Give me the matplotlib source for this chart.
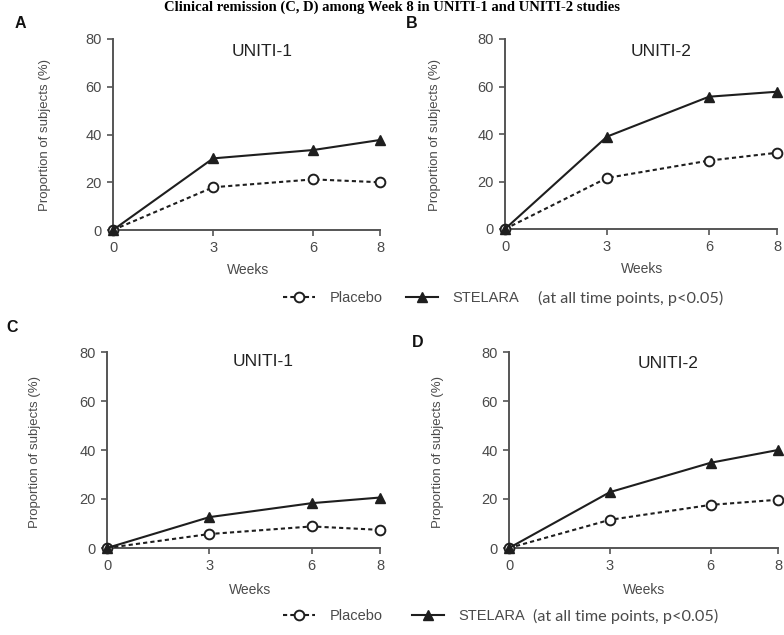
import matplotlib
matplotlib.use("Agg")
import matplotlib.pyplot as plt
from matplotlib.lines import Line2D

plt.rcParams['font.family'] = ['Liberation Sans', 'DejaVu Sans']

W, H = 784, 635

weeks = [0, 3, 6, 8]
week_ticks = [0, 3, 6, 8]
y_ticks = [0, 20, 40, 60, 80]

# response (A, B) and remission (C, D), % of subjects
a_stelara = [0, 30.0, 33.5, 37.7]
a_placebo = [0, 17.9, 21.2, 20.0]
b_stelara = [0, 38.9, 55.7, 57.8]
b_placebo = [0, 21.5, 28.8, 32.1]
c_stelara = [0, 12.6, 18.3, 20.6]
c_placebo = [0, 5.7, 8.8, 7.4]
d_stelara = [0, 22.8, 34.8, 40.0]
d_placebo = [0, 11.5, 17.6, 19.7]

studies = ["UNITI-1", "UNITI-2", "UNITI-1", "UNITI-2"]
letters = ["A", "B", "C", "D"]

ink = "#1e1e1e"
grey = "#4a4a4a"


def fx(x):
    return x / W


def fy(y):
    return 1 - y / H


def box(l, r, t, b):
    return [fx(l), fy(b), (r - l) / W, (b - t) / H]


fig = plt.figure(figsize=(W / 100, H / 100), dpi=100)

# heading line at the very top (only a sliver shows in the source)
fig.text(fx(392), fy(1), "Clinical remission (C, D) among Week 8 in UNITI-1 and UNITI-2 studies",
         family="Liberation Serif", weight="bold", fontsize=10.5, ha="center", va="top", color="black")

panels = [
    # (stelara, placebo, axes px box, title xy, ylabel xy, xlabel xy, letter xy)
    (a_stelara, a_placebo, (113, 380, 39, 230), (262, 51), (45, 135), (248, 270), (20, 24)),
    (b_stelara, b_placebo, (505, 777, 39, 229), (661, 51), (435, 135), (642, 269), (412, 24)),
    (c_stelara, c_placebo, (107, 380, 352, 548), (263, 362), (35, 452), (250, 590), (12, 328)),
    (d_stelara, d_placebo, (509, 778, 352, 548), (668, 363), (438, 452), (644, 590), (418, 343)),
]

for i, (st, pl, bx, tpos, ylpos, xlpos, lpos) in enumerate(panels):
    ax = fig.add_axes(box(*bx))
    ax.plot(weeks, pl, color=ink, lw=1.5, linestyle=(0, (2, 1.5)), marker="o", markersize=7,
            markerfacecolor="white", markeredgecolor=ink, markeredgewidth=1.4, clip_on=False, zorder=3)
    ax.plot(weeks, st, color=ink, lw=1.5, marker="^", markersize=6.5, markerfacecolor=ink,
            markeredgecolor=ink, clip_on=False, zorder=4)
    ax.set_xlim(0, 8)
    ax.set_ylim(0, 80)
    ax.set_xticks(week_ticks)
    ax.set_yticks(y_ticks)
    for s in ["top", "right"]:
        ax.spines[s].set_visible(False)
    for s in ["left", "bottom"]:
        ax.spines[s].set_color("#555555")
        ax.spines[s].set_linewidth(1.4)
    ax.tick_params(direction="out", length=4, width=1.2, color="#555555", labelcolor=grey,
                   labelsize=10.5)
    ax.tick_params(axis="x", pad=4)
    ax.tick_params(axis="y", pad=4)
    ax.patch.set_visible(False)

    fig.text(fx(tpos[0]), fy(tpos[1]), studies[i], fontsize=12.5, color="#222222", ha="center", va="center")
    fig.text(fx(ylpos[0]), fy(ylpos[1]), "Proportion of subjects (%)", fontsize=9.5, color=grey,
             rotation=90, ha="center", va="center")
    fig.text(fx(xlpos[0]), fy(xlpos[1]), "Weeks", fontsize=10, color=grey, ha="center", va="center")
    fig.text(fx(lpos[0]), fy(lpos[1]), letters[i], fontsize=11.5, weight="bold", color="#111111",
             ha="center", va="center")

# legends under each row
h_pl = Line2D([], [], color=ink, lw=1.5, linestyle=(0, (2, 1.5)), marker="o", markersize=7,
              markerfacecolor="white", markeredgecolor=ink, markeredgewidth=1.4)
h_st = Line2D([], [], color=ink, lw=1.5, marker="^", markersize=6.5, markerfacecolor=ink)

for ly, colsp, note_x in [(298, 1.6, 538), (616, 2.0, 533)]:
    fig.legend([h_pl, h_st], ["Placebo", "STELARA"], loc="center left",
               bbox_to_anchor=(fx(283), fy(ly)), ncol=2, frameon=False, fontsize=10.5,
               handlelength=2.2, handletextpad=1.0, columnspacing=colsp, borderpad=0,
               borderaxespad=0, labelcolor=grey, numpoints=1)
    fig.text(fx(note_x), fy(ly), "(at all time points, p<0.05)", family=["Lato", "DejaVu Sans"],
             fontsize=11.7, color=grey, ha="left", va="center")

fig.savefig("out.png", dpi=100)
